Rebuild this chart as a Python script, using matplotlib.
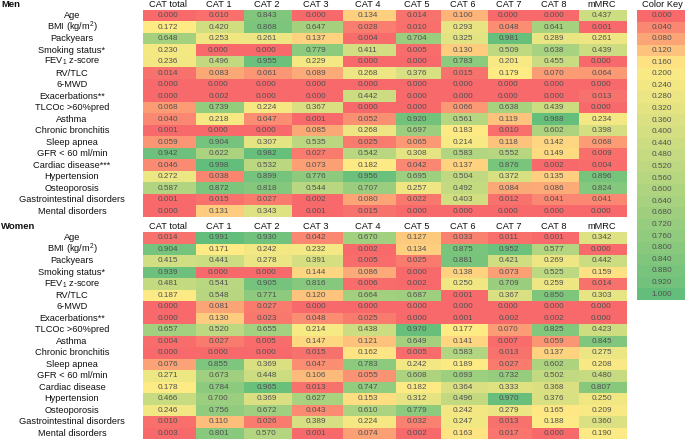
import numpy as np
import matplotlib
matplotlib.use("Agg")
import matplotlib.pyplot as plt
from matplotlib.colors import LinearSegmentedColormap, Normalize

plt.rcParams['font.family'] = ['Liberation Sans', 'DejaVu Sans']

columns = ["CAT total", "CAT 1", "CAT 2", "CAT 3", "CAT 4", "CAT 5",
           "CAT 6", "CAT 7", "CAT 8", "mMRC"]

men_rows = ["Age", r"BMI (kg/m$\mathregular{^2}$)", "Packyears", "Smoking status*",
            r"FEV$\mathregular{_1}$ z-score", "RV/TLC", "6-MWD", "Exacerbations**",
            "TLCOc >60%pred", "Asthma", "Chronic bronchitis", "Sleep apnea",
            "GFR < 60 ml/min", "Cardiac disease***", "Hypertension", "Osteoporosis",
            "Gastrointestinal disorders", "Mental disorders"]

women_rows = ["Age", r"BMI (kg/m$\mathregular{^2}$)", "Packyears", "Smoking status*",
              r"FEV$\mathregular{_1}$ z-score", "RV/TLC", "6-MWD", "Exacerbations**",
              "TLCOc >60%pred", "Asthma", "Chronic bronchitis", "Sleep apnea",
              "GFR < 60 ml/min", "Cardiac disease", "Hypertension", "Osteoporosis",
              "Gastrointestinal disorders", "Mental disorders"]

men_p = [
    [0.000, 0.010, 0.843, 0.000, 0.134, 0.014, 0.100, 0.000, 0.000, 0.437],
    [0.172, 0.420, 0.868, 0.647, 0.028, 0.010, 0.293, 0.048, 0.641, 0.001],
    [0.648, 0.253, 0.261, 0.137, 0.004, 0.704, 0.325, 0.981, 0.289, 0.261],
    [0.230, 0.000, 0.000, 0.779, 0.411, 0.005, 0.130, 0.509, 0.638, 0.439],
    [0.236, 0.496, 0.955, 0.229, 0.000, 0.000, 0.783, 0.201, 0.455, 0.000],
    [0.014, 0.083, 0.061, 0.089, 0.268, 0.376, 0.015, 0.179, 0.070, 0.064],
    [0.000, 0.000, 0.000, 0.000, 0.000, 0.000, 0.000, 0.000, 0.000, 0.000],
    [0.000, 0.002, 0.000, 0.000, 0.442, 0.000, 0.000, 0.000, 0.000, 0.013],
    [0.068, 0.739, 0.224, 0.367, 0.000, 0.000, 0.066, 0.638, 0.439, 0.000],
    [0.040, 0.218, 0.047, 0.001, 0.052, 0.920, 0.561, 0.119, 0.988, 0.234],
    [0.001, 0.000, 0.000, 0.085, 0.268, 0.697, 0.183, 0.010, 0.602, 0.398],
    [0.059, 0.904, 0.307, 0.535, 0.025, 0.065, 0.214, 0.118, 0.142, 0.068],
    [0.942, 0.622, 0.982, 0.027, 0.542, 0.308, 0.583, 0.552, 0.149, 0.009],
    [0.046, 0.998, 0.532, 0.073, 0.182, 0.042, 0.137, 0.876, 0.002, 0.004],
    [0.272, 0.038, 0.899, 0.776, 0.956, 0.695, 0.504, 0.372, 0.135, 0.896],
    [0.587, 0.872, 0.818, 0.544, 0.707, 0.257, 0.492, 0.084, 0.086, 0.824],
    [0.001, 0.015, 0.027, 0.002, 0.080, 0.022, 0.403, 0.012, 0.041, 0.041],
    [0.000, 0.131, 0.343, 0.001, 0.015, 0.000, 0.000, 0.000, 0.000, 0.000],
]

women_p = [
    [0.014, 0.991, 0.930, 0.042, 0.670, 0.127, 0.033, 0.011, 0.001, 0.342],
    [0.904, 0.171, 0.242, 0.232, 0.002, 0.134, 0.875, 0.952, 0.577, 0.000],
    [0.415, 0.441, 0.278, 0.391, 0.005, 0.025, 0.881, 0.421, 0.269, 0.442],
    [0.939, 0.000, 0.000, 0.144, 0.086, 0.000, 0.138, 0.073, 0.525, 0.159],
    [0.481, 0.541, 0.905, 0.816, 0.006, 0.002, 0.250, 0.709, 0.259, 0.014],
    [0.187, 0.548, 0.771, 0.120, 0.664, 0.687, 0.001, 0.367, 0.850, 0.303],
    [0.000, 0.081, 0.027, 0.000, 0.000, 0.000, 0.000, 0.000, 0.000, 0.000],
    [0.000, 0.130, 0.023, 0.048, 0.025, 0.000, 0.001, 0.002, 0.002, 0.000],
    [0.657, 0.520, 0.655, 0.214, 0.438, 0.970, 0.177, 0.070, 0.825, 0.423],
    [0.004, 0.027, 0.005, 0.147, 0.121, 0.649, 0.141, 0.007, 0.059, 0.845],
    [0.000, 0.000, 0.000, 0.015, 0.162, 0.005, 0.583, 0.013, 0.137, 0.275],
    [0.076, 0.855, 0.369, 0.047, 0.783, 0.242, 0.189, 0.027, 0.602, 0.208],
    [0.271, 0.673, 0.448, 0.106, 0.055, 0.608, 0.693, 0.732, 0.502, 0.480],
    [0.178, 0.784, 0.965, 0.013, 0.747, 0.182, 0.364, 0.333, 0.368, 0.807],
    [0.466, 0.700, 0.369, 0.627, 0.153, 0.312, 0.496, 0.970, 0.376, 0.250],
    [0.246, 0.756, 0.672, 0.043, 0.610, 0.779, 0.242, 0.279, 0.165, 0.209],
    [0.010, 0.110, 0.026, 0.389, 0.224, 0.032, 0.247, 0.013, 0.188, 0.360],
    [0.003, 0.801, 0.570, 0.001, 0.074, 0.002, 0.163, 0.017, 0.000, 0.190],
]

key_values = [0.000, 0.040, 0.080, 0.120, 0.160, 0.200, 0.240, 0.280, 0.320,
              0.360, 0.400, 0.440, 0.480, 0.520, 0.560, 0.600, 0.640, 0.680,
              0.720, 0.760, 0.800, 0.840, 0.880, 0.920, 1.000]

# excel-like 3 colour scale: red -> yellow -> green
cmap = LinearSegmentedColormap.from_list(
    "ryg", [(0.0, "#F8696B"), (0.17, "#FFEB84"), (1.0, "#63BE7B")])
norm = Normalize(0, 1)

TXT = "#505050"
col_edges = np.array([143, 196, 244, 292, 343, 396, 441, 488, 532, 579, 627])
row_h = 11.49


def draw_table(ax, title, rows, vals, top):
    vals = np.array(vals)
    y_edges = top + row_h * np.arange(len(rows) + 1)
    ax.pcolormesh(col_edges, y_edges, vals, cmap=cmap, norm=norm, shading='flat')
    xc = (col_edges[:-1] + col_edges[1:]) / 2
    yc = (y_edges[:-1] + y_edges[1:]) / 2
    ax.text(1, top - 5.3, title, fontsize=6.8, fontweight='bold',
            ha='left', va='center', color='#111111')
    for j, c in enumerate(columns):
        ax.text(xc[j] - 1.5, top - 5.3, c, fontsize=6.7, ha='center', va='center',
                color='#111111')
    for i, r in enumerate(rows):
        ax.text(72, yc[i], r, fontsize=6.7, ha='center', va='center', color='#111111')
        for j in range(len(columns)):
            ax.text(xc[j] - 1.5, yc[i], f"{vals[i, j]:.3f}", fontsize=5.9,
                    ha='center', va='center', color=TXT)


fig = plt.figure(figsize=(6.85, 4.4), dpi=100)
ax = fig.add_axes([0, 0, 1, 1])
ax.set_xlim(0, 685)
ax.set_ylim(440, 0)
ax.axis('off')

draw_table(ax, "Men", men_rows, men_p, 9.95)
draw_table(ax, "Women", women_rows, women_p, 232.25)

# colour key column
key_h = 11.6
key_edges_y = 9.95 + key_h * np.arange(len(key_values) + 1)
key_edges_x = np.array([637, 688])
ax.pcolormesh(key_edges_x, key_edges_y, np.array(key_values).reshape(-1, 1),
              cmap=cmap, norm=norm, shading='flat')
ax.text(662, 4.7, "Color Key", fontsize=6.7, ha='center', va='center', color='#111111')
for i, v in enumerate(key_values):
    ax.text(662, key_edges_y[i] + key_h / 2, f"{v:.3f}", fontsize=5.9,
            ha='center', va='center', color=TXT)

fig.savefig("out.png", dpi=100)
